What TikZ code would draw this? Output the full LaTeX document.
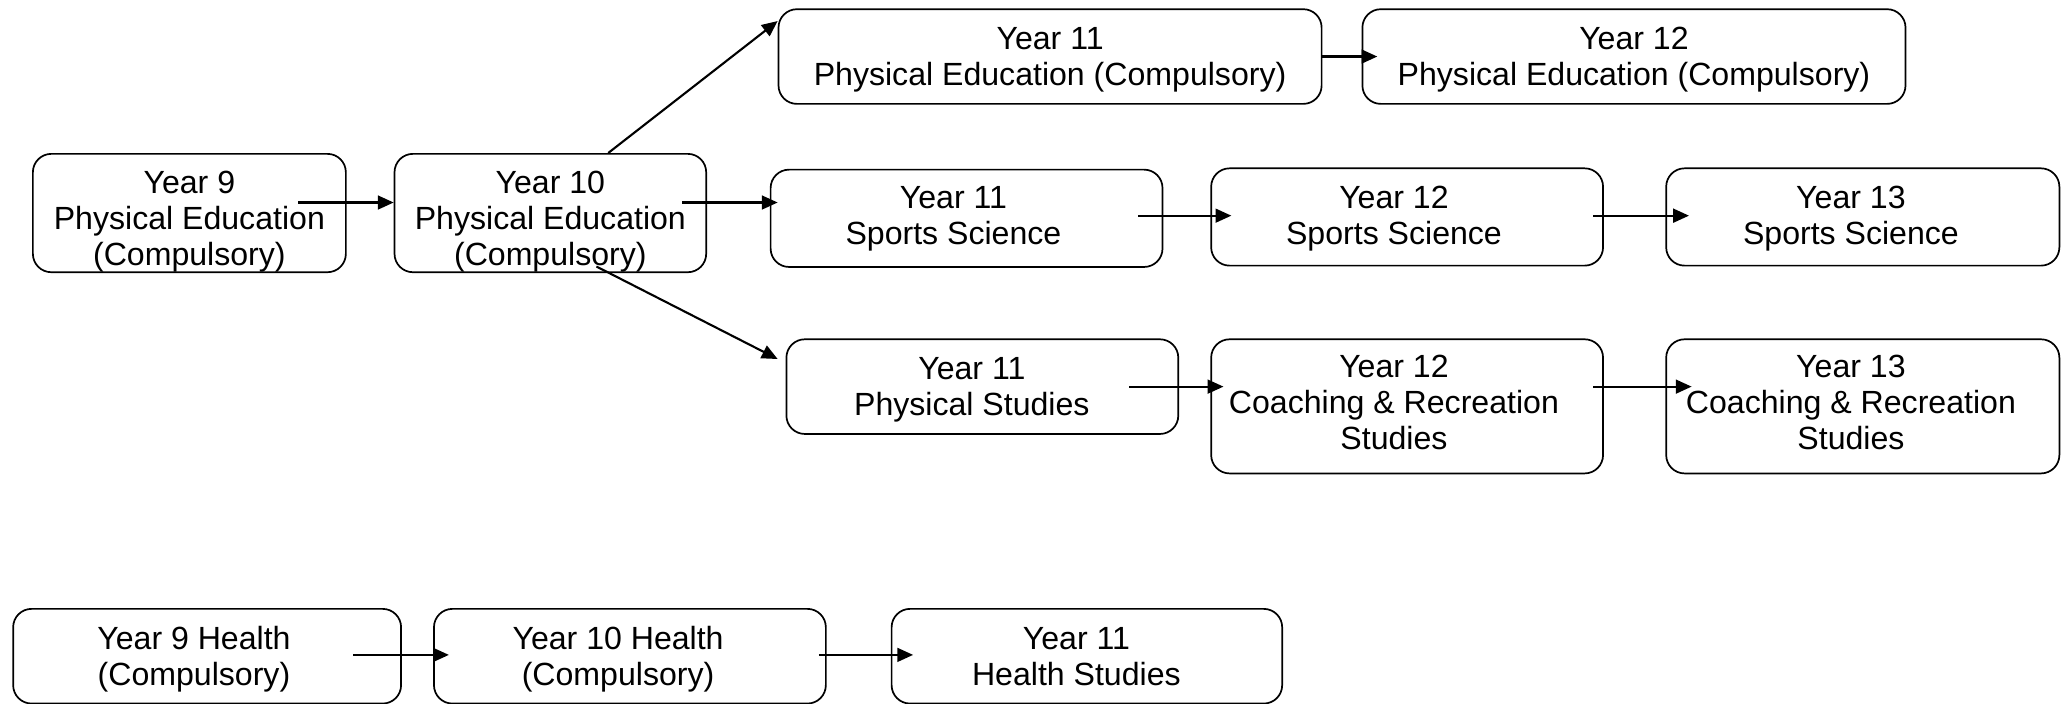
\documentclass[tikz,border=0pt]{standalone}
\usepackage{fontspec}
\setmainfont{Liberation Sans}
\usetikzlibrary{arrows.meta,calc}
\newcommand\btxt[3]{\hspace*{#1}\raisebox{#2}[\height][\depth]{\begin{tabular}{@{}c@{}}#3\end{tabular}}}
\begin{document}
\begin{tikzpicture}[x=1pt,y=-1pt,
  box/.style={draw, line width=1.3pt, rounded corners=14pt, inner sep=0pt,
    font=\fontsize{24.4}{27.5}\selectfont},
  arr/.style={line width=1.6pt, -{Triangle[length=12pt,width=10.5pt]}}]
\useasboundingbox (0,0) rectangle (1568,535);
\node[box, minimum width=238, minimum height=90] (y9pe) at (144,162) {\btxt{0pt}{-7pt}{Year 9\\Physical Education\\(Compulsory)}};
\node[box, minimum width=237, minimum height=90] (y10pe) at (418.5,162) {\btxt{0pt}{-7pt}{Year 10\\Physical Education\\(Compulsory)}};
\node[box, minimum width=413, minimum height=72] (y11pe) at (798.5,43) {\btxt{0pt}{-3pt}{Year 11\\Physical Education (Compulsory)}};
\node[box, minimum width=413, minimum height=72] (y12pe) at (1242.5,43) {\btxt{0pt}{-3pt}{Year 12\\Physical Education (Compulsory)}};
\node[box, minimum width=298, minimum height=74] (y11ss) at (735,166) {\btxt{-20pt}{-1pt}{Year 11\\Sports Science}};
\node[box, minimum width=298, minimum height=74] (y12ss) at (1070,165) {\btxt{-20pt}{-2pt}{Year 12\\Sports Science}};
\node[box, minimum width=299, minimum height=74] (y13ss) at (1416.5,165) {\btxt{-18pt}{-2pt}{Year 13\\Sports Science}};
\node[box, minimum width=298, minimum height=72] (y11ps) at (747,294) {\btxt{-16pt}{-3pt}{Year 11\\Physical Studies}};
\node[box, minimum width=298, minimum height=102] (y12cr) at (1070,309) {\btxt{-20pt}{0pt}{Year 12\\Coaching \& Recreation\\Studies}};
\node[box, minimum width=299, minimum height=102] (y13cr) at (1416.5,309) {\btxt{-18pt}{0pt}{Year 13\\Coaching \& Recreation\\Studies}};
\node[box, minimum width=295, minimum height=72] (y9h) at (157.5,499) {\btxt{-20pt}{-3pt}{Year 9 Health\\(Compulsory)}};
\node[box, minimum width=298, minimum height=72] (y10h) at (479,499) {\btxt{-18pt}{-3pt}{Year 10 Health\\(Compulsory)}};
\node[box, minimum width=297, minimum height=72] (y11h) at (826.5,499) {\btxt{-16pt}{-3pt}{Year 11\\Health Studies}};
% connectors
\draw[arr] ($(y9pe.east)+(-37,-8)$) -- ($(y10pe.west)+(0,-8)$);
\draw[arr] ($(y10pe.east)+(-19,-8)$) -- ($(y11ss.west)+(6,-12)$);
\draw[arr] ($(y10pe.north)+(44,0)$) -- ($(y11pe.west)+(0,-27)$);
\draw[arr] ($(y10pe.south)+(35,-5)$) -- ($(y11ps.west)+(-6,-21)$);
\draw[arr] (y11pe.east) -- ($(y12pe.west)+(12,0)$);
\draw[arr] ($(y11ss.east)+(-19,-2)$) -- ($(y12ss.west)+(16,-1)$);
\draw[arr] ($(y12ss.east)+(-8,-1)$) -- ($(y13ss.west)+(18,-1)$);
\draw[arr] ($(y11ps.east)+(-38,0)$) -- ($(y12cr.west)+(10,-15)$);
\draw[arr] ($(y12cr.east)+(-8,-15)$) -- ($(y13cr.west)+(20,-15)$);
\draw[arr] ($(y9h.east)+(-37,-1)$) -- ($(y10h.west)+(12,-1)$);
\draw[arr] ($(y10h.east)+(-6,-1)$) -- ($(y11h.west)+(17,-1)$);
\end{tikzpicture}
\end{document}
